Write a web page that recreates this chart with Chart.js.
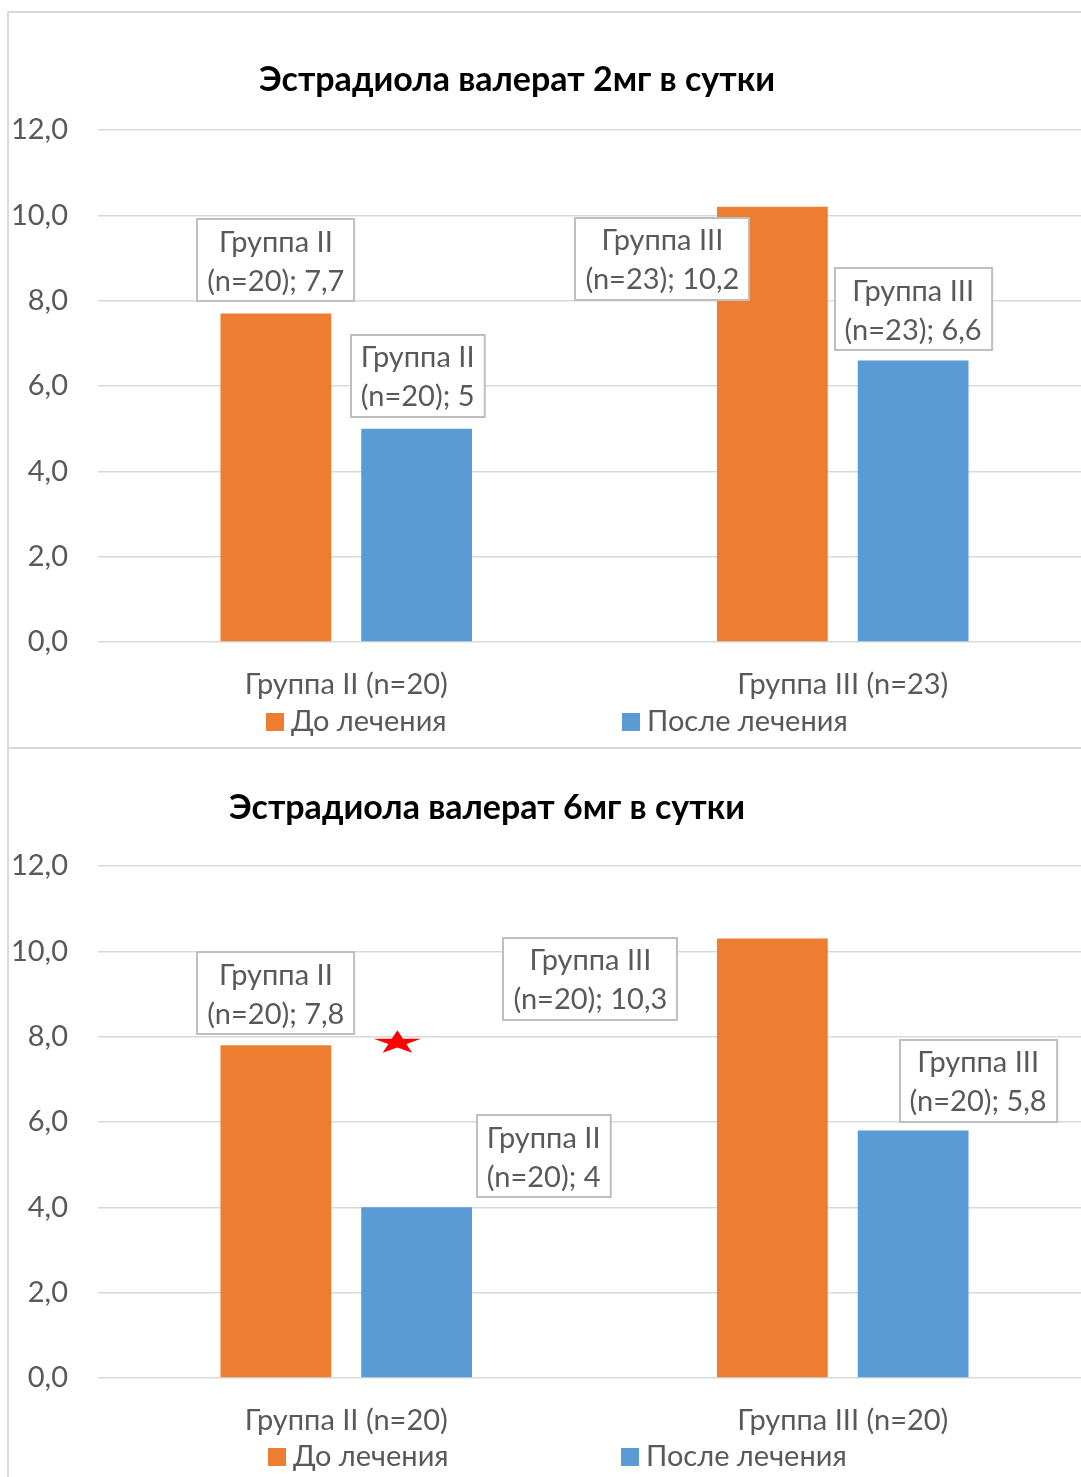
<!DOCTYPE html>
<html lang="ru">
<head>
<meta charset="utf-8">
<title>Эстрадиола валерат</title>
<script src="https://cdn.jsdelivr.net/npm/chart.js@4.4.1/dist/chart.umd.min.js"></script>
<style>
  html, body { margin: 0; padding: 0; background: #fff; overflow: hidden; }
  body { width: 1081px; height: 1477px; position: relative; }
  .frame { position: absolute; left: 7px; top: 11px; width: 1200px; height: 1600px;
           border-top: 2px solid #d9d9d9; border-left: 2px solid #d9d9d9; }
  .split { position: absolute; left: 7px; top: 747px; width: 1200px; height: 0;
           border-top: 2px solid #d9d9d9; }
  canvas { position: absolute; left: 9px; }
  #chart2mg { top: 13px; }
  #chart6mg { top: 749px; }
</style>
</head>
<body>
<div class="frame"></div>
<div class="split"></div>
<canvas id="chart2mg" width="1091" height="734"></canvas>
<canvas id="chart6mg" width="1091" height="734"></canvas>

<script>
'use strict';

/* ---------- data ---------- */
const seriesNames  = ['До лечения', 'После лечения'];
const seriesColors = ['#ed7d31', '#5b9bd5'];

const title2mg  = 'Эстрадиола валерат 2мг в сутки';
const groups2mg = ['Группа II (n=20)', 'Группа III (n=23)'];
const before2mg = [7.7, 10.2];
const after2mg  = [5, 6.6];

const title6mg  = 'Эстрадиола валерат 6мг в сутки';
const groups6mg = ['Группа II (n=20)', 'Группа III (n=20)'];
const before6mg = [7.8, 10.3];
const after6mg  = [4, 5.8];

const yMin = 0, yMax = 12, yStep = 2;

// significance star over group II, 6 mg chart
const starMark = { category: 0, value: 7.86 };

/* ---------- look ---------- */
const FONT      = "Lato, 'Open Sans', sans-serif";
const TEXT_GREY = '#595959';
const GRID_GREY = '#d9d9d9';

// label box offsets from the bar top centre: [series][category] -> [dx, dy]
const shifts2mg = [[[0, -53], [-110, 52]], [[1, -53], [0, -51]]];
const shifts6mg = [[[0, -52], [-182, 40]], [[127, -51], [65, -50]]];

const fmtValue = v => String(v).replace('.', ',');

function drawLabelBox(ctx, lines, cx, cy) {
  ctx.save();
  ctx.font = `29px ${FONT}`;
  const w = Math.max(...lines.map(l => ctx.measureText(l).width)) + 20;
  const h = 82;
  const x = Math.round(cx - w / 2), y = Math.round(cy - h / 2);
  ctx.fillStyle = '#fff';
  ctx.fillRect(x, y, w, h);
  ctx.strokeStyle = '#bfbfbf';
  ctx.lineWidth = 2;
  ctx.strokeRect(x, y, w, h);
  ctx.fillStyle = TEXT_GREY;
  ctx.textAlign = 'center';
  ctx.textBaseline = 'middle';
  ctx.fillText(lines[0], cx, cy - 18);
  ctx.fillText(lines[1], cx, cy + 21);
  ctx.restore();
}

function drawStar(ctx, cx, cy, r, squash) {
  ctx.save();
  ctx.translate(cx, cy);
  ctx.scale(1, squash);
  ctx.beginPath();
  for (let k = 0; k < 10; k++) {
    const rad = k % 2 ? r * 0.38 : r;
    const a = -Math.PI / 2 + k * Math.PI / 5;
    ctx.lineTo(Math.cos(a) * rad, Math.sin(a) * rad);
  }
  ctx.closePath();
  ctx.fillStyle = '#ff0000';
  ctx.fill();
  ctx.restore();
}

const excelExtras = {
  id: 'excelExtras',
  afterDatasetsDraw(chart, args, opts) {
    const ctx = chart.ctx;

    // value labels
    chart.data.datasets.forEach((ds, i) => {
      chart.getDatasetMeta(i).data.forEach((bar, j) => {
        const cat = chart.data.labels[j];
        const cut = cat.indexOf(' (');
        const lines = [cat.slice(0, cut), cat.slice(cut + 1) + '; ' + fmtValue(ds.data[j])];
        const [dx, dy] = opts.shifts[i][j];
        drawLabelBox(ctx, lines, bar.x + dx, bar.y + dy);
      });
    });

    // star
    if (opts.star) {
      const xs = chart.scales.x, ys = chart.scales.y;
      const step = xs.getPixelForValue(1) - xs.getPixelForValue(0);
      const x = xs.getPixelForValue(opts.star.category) + step * 0.103;
      drawStar(ctx, x, ys.getPixelForValue(opts.star.value), 25, 0.5);
    }
  },
  afterDraw(chart, args, opts) {
    const ctx = chart.ctx;
    ctx.save();

    // title
    ctx.font = `bold 34px ${FONT}`;
    ctx.fillStyle = '#000';
    ctx.textAlign = 'center';
    ctx.textBaseline = 'middle';
    ctx.fillText(opts.title, opts.titleX, opts.titleY);

    // legend
    ctx.font = `29px ${FONT}`;
    ctx.textAlign = 'left';
    chart.data.datasets.forEach((ds, i) => {
      const x = opts.legendX[i];
      ctx.fillStyle = ds.backgroundColor;
      ctx.fillRect(x, opts.legendY - 9, 18, 18);
      ctx.fillStyle = TEXT_GREY;
      ctx.fillText(ds.label, x + 25, opts.legendY);
    });
    ctx.restore();
  }
};

function makeChart(id, groups, before, after, extras) {
  return new Chart(document.getElementById(id), {
    type: 'bar',
    data: {
      labels: groups,
      datasets: [before, after].map((vals, i) => ({
        label: seriesNames[i],
        data: vals,
        backgroundColor: seriesColors[i],
        borderWidth: 0,
        categoryPercentage: 0.567,
        barPercentage: 0.787
      }))
    },
    options: {
      responsive: false,
      animation: false,
      layout: { padding: { top: 117, right: 9, bottom: 25, left: 0 } },
      plugins: {
        legend: { display: false },
        title: { display: false },
        tooltip: { enabled: false },
        excelExtras: extras
      },
      scales: {
        x: {
          grid: { display: false },
          border: { display: false },
          ticks: { color: TEXT_GREY, font: { family: FONT, size: 29 }, padding: 17, maxRotation: 0 },
          afterFit: s => { s.height = 80; }
        },
        y: {
          min: yMin, max: yMax,
          grid: { color: GRID_GREY, lineWidth: 1.5, drawTicks: false },
          border: { display: false },
          ticks: {
            stepSize: yStep,
            color: TEXT_GREY,
            font: { family: FONT, size: 29 },
            padding: 30,
            callback: v => v.toFixed(1).replace('.', ',')
          },
          afterFit: s => { s.width = 89; }
        }
      }
    },
    plugins: [excelExtras]
  });
}

makeChart('chart2mg', groups2mg, before2mg, after2mg, {
  title: title2mg, titleX: 508, titleY: 67,
  legendX: [257, 613], legendY: 709,
  shifts: shifts2mg
});

makeChart('chart6mg', groups6mg, before6mg, after6mg, {
  title: title6mg, titleX: 478, titleY: 59,
  legendX: [259, 612], legendY: 708,
  shifts: shifts6mg,
  star: starMark
});
</script>
</body>
</html>
